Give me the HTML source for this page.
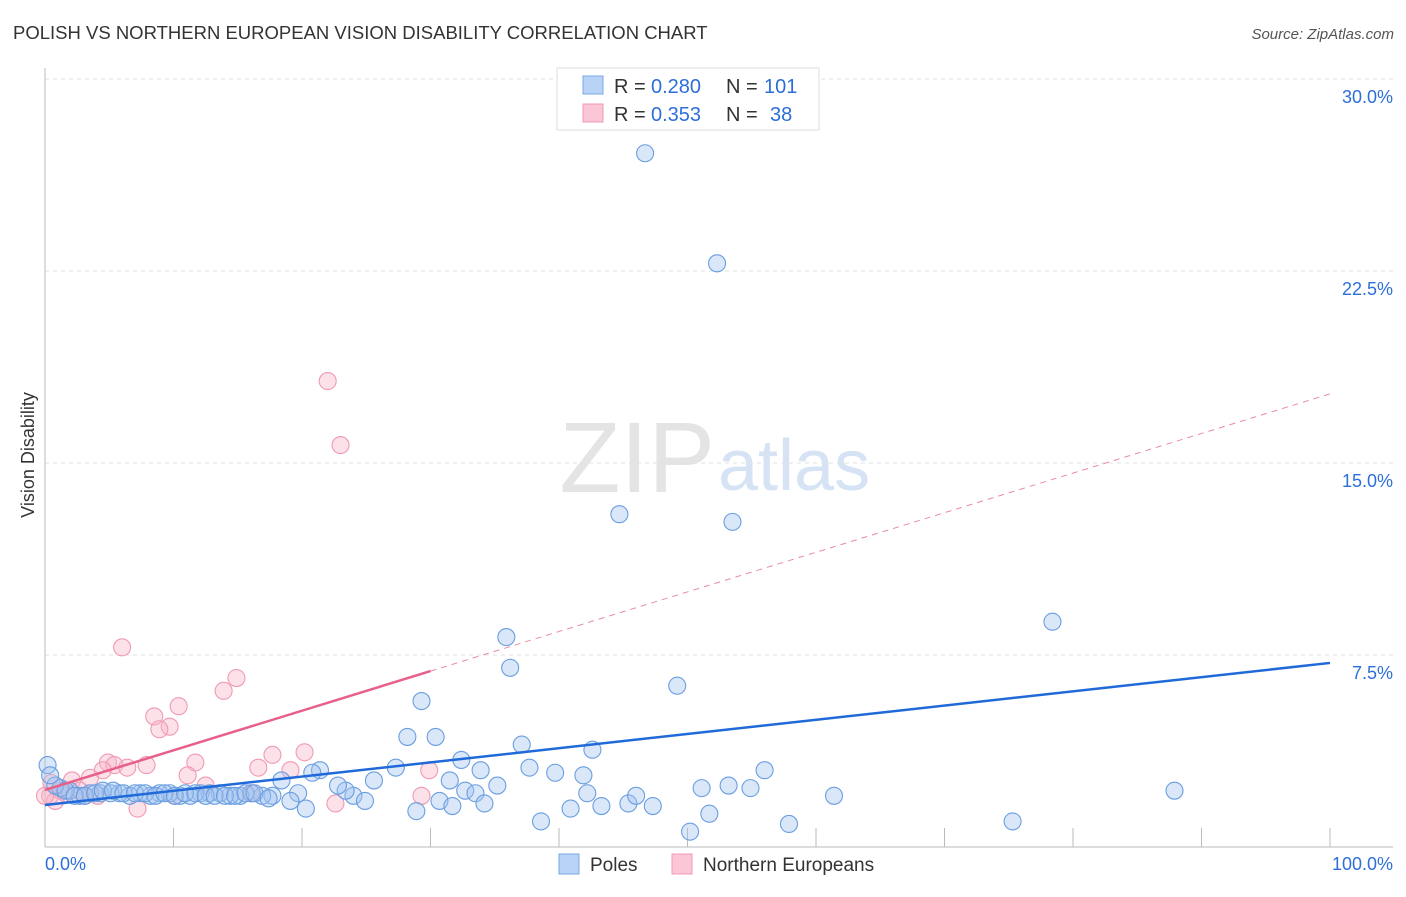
<!DOCTYPE html>
<html><head><meta charset="utf-8"><style>
body{margin:0;background:#fff;font-family:"Liberation Sans",sans-serif}
svg text{font-family:"Liberation Sans",sans-serif}
</style></head><body>
<svg id="chart" width="1406" height="892" xmlns="http://www.w3.org/2000/svg">
<text x="13" y="39" font-size="18.5" fill="#333">POLISH VS NORTHERN EUROPEAN VISION DISABILITY CORRELATION CHART</text>
<text x="1394" y="39" font-size="15" fill="#555" font-style="italic" text-anchor="end">Source: ZipAtlas.com</text>
<text x="715" y="492" font-size="100" text-anchor="end" fill="#e4e4e4" font-family="Liberation Serif">ZIP</text>
<text x="718" y="490" font-size="72" fill="#d5e3f5">atlas</text>
<g id="grid"></g>
<g id="axes"></g>
<g id="marks"></g>
<text transform="translate(34,455) rotate(-90)" font-size="18" fill="#333" text-anchor="middle">Vision Disability</text>
<g>
<rect x="557" y="68" width="262" height="62" fill="#fff" stroke="#ddd"/>
<rect x="583" y="76" width="20" height="18" fill="#b8d3f5" stroke="#7aa8e6"/>
<rect x="583" y="104" width="20" height="18" fill="#fbc6d6" stroke="#f09ab4"/>
<text x="614" y="93" font-size="20" fill="#333">R =</text>
<text x="651" y="93" font-size="20" fill="#2d6fd8">0.280</text>
<text x="726" y="93" font-size="20" fill="#333">N =</text>
<text x="764" y="93" font-size="20" fill="#2d6fd8">101</text>
<text x="614" y="121" font-size="20" fill="#333">R =</text>
<text x="651" y="121" font-size="20" fill="#2d6fd8">0.353</text>
<text x="726" y="121" font-size="20" fill="#333">N =</text>
<text x="770" y="121" font-size="20" fill="#2d6fd8">38</text>
</g>
<g>
<rect x="559" y="854" width="20" height="20" fill="#b8d3f5" stroke="#7aa8e6"/>
<text x="590" y="871" font-size="19" fill="#333">Poles</text>
<rect x="672" y="854" width="20" height="20" fill="#fbc6d6" stroke="#f09ab4"/>
<text x="703" y="871" font-size="19" fill="#333">Northern Europeans</text>
</g>
</svg>
<script>
const yTicks=[7.5,15,22.5,30];
const yTickLabels=["7.5%","15.0%","22.5%","30.0%"];
const xTickLabels=["0.0%","100.0%"];
const polesX=[46.7,52.3,44.7,53.5,78.4,35.9,36.2,49.2,29.3,28.2,30.4,37.1,42.6,32.4,33.9,37.7,39.7,41.9,27.3,25.6,31.5,32.7,33.5,35.2,30.7,31.7,34.2,28.9,38.6,40.9,43.3,45.4,46.0,47.3,42.2,51.1,53.2,54.9,56.0,51.7,50.2,57.9,61.4,75.3,87.9,24.0,24.9,23.4,22.8,21.4,20.8,18.4,19.7,20.3,19.1,17.7,16.9,16.1,15.2,14.4,13.6,12.8,12.1,11.3,10.5,9.7,8.9,8.2,7.4,6.6,5.8,5.1,4.3,3.5,2.7,1.9,1.2,0.8,0.2,0.4,1.6,2.3,3.1,3.9,4.5,5.3,6.1,7.0,7.8,8.6,9.3,10.1,10.9,11.7,12.5,13.2,14.0,14.8,15.6,16.3,17.4];
const polesY=[27.1,22.8,13.0,12.7,8.8,8.2,7.0,6.3,5.7,4.3,4.3,4.0,3.8,3.4,3.0,3.1,2.9,2.8,3.1,2.6,2.6,2.2,2.1,2.4,1.8,1.6,1.7,1.4,1.0,1.5,1.6,1.7,2.0,1.6,2.1,2.3,2.4,2.3,3.0,1.3,0.6,0.9,2.0,1.0,2.2,2.0,1.8,2.2,2.4,3.0,2.9,2.6,2.1,1.5,1.8,2.0,2.0,2.1,2.0,2.0,2.1,2.1,2.1,2.0,2.0,2.1,2.1,2.0,2.1,2.0,2.1,2.1,2.1,2.1,2.0,2.2,2.3,2.4,3.2,2.8,2.2,2.0,2.0,2.1,2.2,2.2,2.1,2.1,2.1,2.0,2.1,2.0,2.1,2.1,2.0,2.0,2.0,2.0,2.1,2.1,1.9];
const nordX=[22.0,23.0,6.0,14.9,13.9,10.4,8.5,9.7,8.9,11.7,4.9,5.4,7.9,6.4,17.7,20.2,16.6,19.1,11.1,12.5,29.9,29.3,7.2,22.6,4.5,3.5,2.1,1.2,0.4,0.8,1.6,2.7,3.1,4.1,10.1,16.0,0.5,0.0];
const nordY=[18.2,15.7,7.8,6.6,6.1,5.5,5.1,4.7,4.6,3.3,3.3,3.2,3.2,3.1,3.6,3.7,3.1,3.0,2.8,2.4,3.0,2.0,1.5,1.7,3.0,2.7,2.6,2.2,2.0,1.8,2.1,2.2,2.0,2.0,2.0,2.1,2.5,2.0];
const polesTrend=[1.64,7.19];
const nordTrend=[2.23,17.7];
const nordSolidEnd=30;
const NS="http://www.w3.org/2000/svg";
const X0=45,X1=1330,Y0=847,PPU=25.6;
const xs=v=>X0+(X1-X0)*v/100, ys=v=>Y0-v*PPU;
function mk(tag,attrs,parent){const e=document.createElementNS(NS,tag);for(const k in attrs)e.setAttribute(k,attrs[k]);parent.appendChild(e);return e;}
const grid=document.getElementById('grid'),axes=document.getElementById('axes'),marks=document.getElementById('marks');
yTicks.forEach((t,i)=>{
 const l=mk('line',{x1:X0,x2:1393,y1:ys(t),y2:ys(t),stroke:'#e2e2e2','stroke-dasharray':'4,4'},grid);
 
 
 const tx=mk('text',{x:1393,y:ys(t)+24,'font-size':18,fill:'#2d6fd8','text-anchor':'end'},axes);
 tx.textContent=yTickLabels[i];
 
 
});
const ya=mk('line',{x1:X0,x2:X0,y1:68,y2:Y0,stroke:'#bbb'},axes);


const xa=mk('line',{x1:X0,x2:1393,y1:Y0,y2:Y0,stroke:'#bbb'},axes);


for(let i=1;i<=10;i++){const t=mk('line',{x1:xs(i*10),x2:xs(i*10),y1:828,y2:Y0,stroke:'#bbb'},axes);
 
 }
[[0,'start'],[100,'end']].forEach((p,i)=>{const t=mk('text',{x:i?1393:45,y:870,'font-size':18,fill:'#2d6fd8','text-anchor':p[1]},axes);t.textContent=xTickLabels[i];
 
 });
nordX.forEach((v,i)=>{const c=mk('circle',{cx:xs(v),cy:ys(nordY[i]),r:8.5,fill:'rgba(248,180,200,0.4)',stroke:'#f09ab4','stroke-width':1.1},marks);
 
 });
polesX.forEach((v,i)=>{const c=mk('circle',{cx:xs(v),cy:ys(polesY[i]),r:8.5,fill:'rgba(160,196,240,0.4)',stroke:'#6a9ee0','stroke-width':1.1},marks);
 
 });
const pl=mk('line',{x1:xs(0),y1:ys(polesTrend[0]),x2:xs(100),y2:ys(polesTrend[1]),stroke:'#1f6ad8','stroke-width':2.5},marks);


const nAt=x=>nordTrend[0]+(nordTrend[1]-nordTrend[0])*x/100;
const nd=mk('line',{x1:xs(nordSolidEnd),y1:ys(nAt(nordSolidEnd)),x2:xs(100),y2:ys(nordTrend[1]),stroke:'#e88aa8','stroke-width':1,'stroke-dasharray':'6,5'},marks);


const nl=mk('line',{x1:xs(0),y1:ys(nordTrend[0]),x2:xs(nordSolidEnd),y2:ys(nAt(nordSolidEnd)),stroke:'#e8608a','stroke-width':2.5},marks);


</script>
</body></html>
